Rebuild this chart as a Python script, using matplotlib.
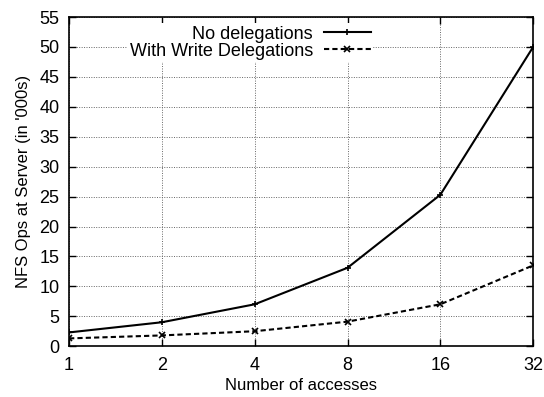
import matplotlib
matplotlib.use("Agg")
import matplotlib.pyplot as plt

plt.rcParams['font.family'] = ['Liberation Sans', 'DejaVu Sans']

accesses = [1, 2, 4, 8, 16, 32]
no_delegations = [2.3, 4.0, 7.0, 13.1, 25.3, 50.0]
write_delegations = [1.3, 1.8, 2.5, 4.1, 7.0, 13.5]
y_ticks = list(range(0, 56, 5))

fig = plt.figure(figsize=(5.44, 3.97), dpi=100)
ax = fig.add_axes([0.127, 0.128, 0.853, 0.829])

ax.plot(accesses, no_delegations, color='black', linestyle='-', linewidth=1.5,
        marker='+', markersize=4, markeredgewidth=1.2, label='No delegations')
ax.plot(accesses, write_delegations, color='black', linestyle=(0, (2.5, 1.5)), linewidth=1.5,
        marker='x', markersize=4, markeredgewidth=1.2, label='With Write Delegations')

ax.set_xscale('log', base=2)
ax.set_xlim(1, 32)
ax.set_ylim(0, 55)
ax.set_xticks(accesses)
ax.set_xticklabels([str(a) for a in accesses])
ax.minorticks_off()
ax.set_yticks(y_ticks)

ax.grid(True, color='#666666', linestyle=(0, (1, 1.5)), linewidth=0.7)
ax.set_axisbelow(True)
ax.tick_params(direction='in', top=True, right=True, labelsize=13, length=5, width=1)
ax.tick_params(axis='x', pad=8)
ax.tick_params(axis='y', pad=7)
for s in ax.spines.values():
    s.set_linewidth(1.2)

ax.set_xlabel('Number of accesses', fontsize=12, labelpad=3)
ax.set_ylabel("NFS Ops at Server (in '000s)", fontsize=12, labelpad=6)

leg = ax.legend(loc='upper left', bbox_to_anchor=(0.105, 1.01), markerfirst=False,
                frameon=True, fontsize=13, handlelength=2.6, borderpad=0.15,
                labelspacing=0.0, handletextpad=0.6)
leg.get_frame().set_edgecolor('none')
leg.get_frame().set_facecolor('white')
leg.get_frame().set_alpha(1.0)
for t in leg.get_texts():
    t.set_ha('right')
leg._legend_box.align = 'right'

fig.savefig('out.png', dpi=100)
